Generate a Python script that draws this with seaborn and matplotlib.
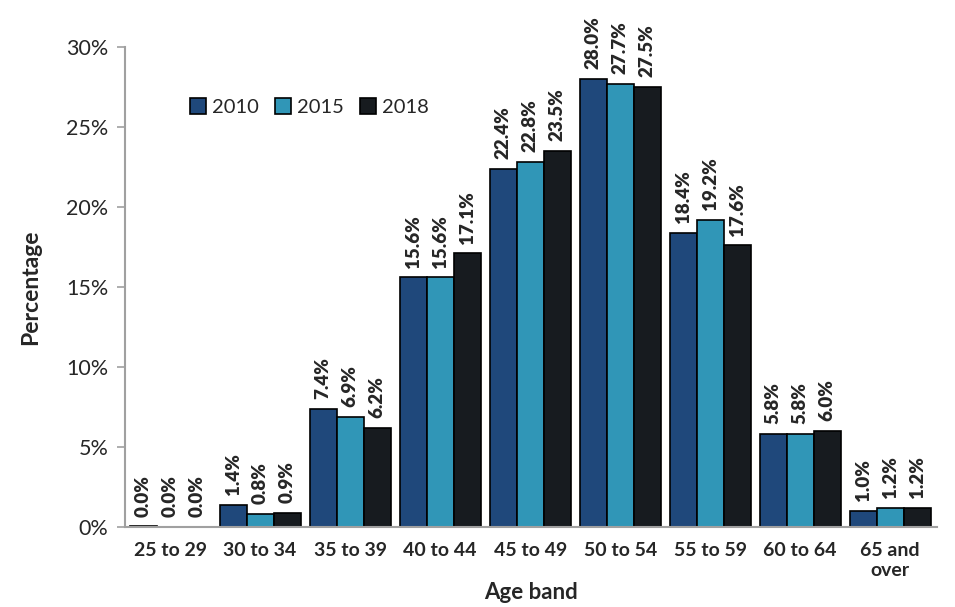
import pandas as pd
import seaborn as sns
import matplotlib.pyplot as plt
from matplotlib.ticker import FuncFormatter

# Données
age_bands = ["25 to 29", "30 to 34", "35 to 39", "40 to 44", "45 to 49",
             "50 to 54", "55 to 59", "60 to 64", "65 and\nover"]
years = ["2010", "2015", "2018"]
pct_2010 = [0.04, 1.4, 7.4, 15.6, 22.4, 28.0, 18.4, 5.8, 1.0]
pct_2015 = [0.0, 0.8, 6.9, 15.6, 22.8, 27.7, 19.2, 5.8, 1.2]
pct_2018 = [0.0, 0.9, 6.2, 17.1, 23.5, 27.5, 17.6, 6.0, 1.2]
colors = ["#1f487b", "#3096b7", "#171b1f"]

rows = []
for year, vals in zip(years, [pct_2010, pct_2015, pct_2018]):
    for band, v in zip(age_bands, vals):
        rows.append({"Age band": band, "Year": year, "Percentage": v})
df = pd.DataFrame(rows)

sns.set_style("white")
plt.rcParams["font.family"] = ["Lato", "DejaVu Sans"]

fig = plt.figure(figsize=(9.55, 6.07), dpi=100)
ax = fig.add_axes([0.1309, 0.1318, 0.8503, 0.7908])

sns.barplot(data=df, x="Age band", y="Percentage", hue="Year",
            palette=colors, width=0.9, edgecolor="black", linewidth=1.2,
            saturation=1, ax=ax)

# Étiquettes de valeurs
for cont, vals in zip(ax.containers, [pct_2010, pct_2015, pct_2018]):
    txts = ax.bar_label(cont, labels=[f"{v:.1f}%" for v in vals], rotation=90,
                        padding=7, fontsize=13.5)
    for t in txts:
        t.set_fontweight("heavy")

ax.set_ylim(0, 30)
ax.set_xlim(-0.5, 8.52)
ax.set_yticks(range(0, 31, 5))
ax.yaxis.set_major_formatter(FuncFormatter(lambda v, p: f"{v:.0f}%"))
ax.tick_params(axis="y", labelsize=15.5, length=6, width=1.2, color="#a0a0a0",
               direction="out", left=True, pad=6)
ax.tick_params(axis="x", labelsize=14, length=0, pad=11)
for lab in ax.get_xticklabels():
    lab.set_fontweight("bold")

for s in ["top", "right"]:
    ax.spines[s].set_visible(False)
for s in ["left", "bottom"]:
    ax.spines[s].set_color("#a0a0a0")
    ax.spines[s].set_linewidth(1.5)

ax.set_xlabel("Age band", fontsize=16, fontweight="bold", labelpad=2)
ax.set_ylabel("Percentage", fontsize=16.5, fontweight="bold", labelpad=18)

ax.legend(loc="upper left", bbox_to_anchor=(0.18, 0.868),
          bbox_transform=fig.transFigure, ncol=3, frameon=False,
          fontsize=14.5, handlelength=0.8, handleheight=0.8,
          handletextpad=0.3, columnspacing=0.8, title=None)

plt.savefig("out.png", dpi=100)
